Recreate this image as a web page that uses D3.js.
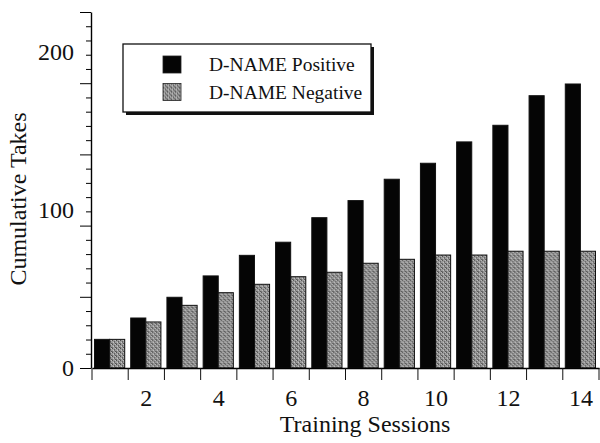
<!DOCTYPE html>
<html>
<head>
<meta charset="utf-8">
<script src="https://cdn.jsdelivr.net/npm/d3@7"></script>
</head>
<body style="margin:0; background:#fff">
<div id="app"></div>
<script>

// sessions along the x axis
var sessions = [1, 2, 3, 4, 5, 6, 7, 8, 9, 10, 11, 12, 13, 14]
var xTickLabels = [2, 4, 6, 8, 10, 12, 14]

// cumulative takes per session
var positive = [18.1, 31.6, 44.7, 58.2, 71.2, 79.5, 95.0, 105.8, 119.3, 129.4, 142.9, 153.4, 172.1, 179.5]
var negative = [18.1, 29.1, 39.6, 47.6, 52.9, 57.7, 60.5, 66.2, 68.7, 71.4, 71.4, 73.8, 73.8, 73.8]

var yTickLabels = [0, 100, 200]
var seriesNames = ['D-NAME Positive', 'D-NAME Negative']

var width = 600
var height = 443
var yMax = 225
var fontFam = '"Liberation Serif", "DejaVu Serif"'

var svg = d3.select('#app').html('')
	.append('svg')
	  .attr('width', width)
	  .attr('height', height)
	  .style('display', 'block')

// halftone-ish grey fill
var defs = svg.append('defs')
var pat = defs.append('pattern')
	.attr('id', 'grey')
	.attr('width', 4)
	.attr('height', 4)
	.attr('patternUnits', 'userSpaceOnUse')
pat.append('rect').attr('width', 4).attr('height', 4).attr('fill', '#9a9a9a')
var dots = [[0, 0, '#4f4f4f'], [2, 1, '#606060'], [1, 2, '#c6c6c6'], [3, 3, '#555'], [3, 0, '#bdbdbd'], [0, 3, '#6e6e6e'], [2, 2, '#707070']]
dots.forEach(function(p) {
	pat.append('rect').attr('x', p[0]).attr('y', p[1]).attr('width', 1).attr('height', 1).attr('fill', p[2])
})

var x = d3.scaleBand()
	.domain(sessions)
	.range([92, 599])
	.padding(0)

var sub = d3.scaleBand()
	.domain(['pos', 'neg'])
	.range([2.5, x.bandwidth() - 3.5])

var y = d3.scaleLinear()
	.domain([0, yMax])
	.range([368, 12])

var fills = { pos: '#050505', neg: 'url(#grey)' }

// bars
var groups = svg.append('g').selectAll('.session')
	.data(sessions)
  .enter()
	.append('g')
	.attr('class', 'session')
	.attr('transform', function(d) { return 'translate(' + x(d) + ',0)' })

groups.selectAll('rect')
	.data(function(d, i) {
		return [{ key: 'pos', v: positive[i] }, { key: 'neg', v: negative[i] }]
	})
  .enter()
	.append('rect')
	.attr('x', function(d) { return sub(d.key) })
	.attr('width', sub.bandwidth())
	.attr('y', function(d) { return y(d.v) })
	.attr('height', function(d) { return y(0) - y(d.v) })
	.attr('fill', function(d) { return fills[d.key] })
	.attr('stroke', '#111')
	.attr('stroke-width', 1)

// y axis: minor/major ticks
var tickVals = d3.range(0, 26).map(function(i) { return i * yMax / 25 })

var yTicks = svg.append('g')
	.attr('transform', 'translate(91,0)')
	.call(d3.axisLeft(y).tickValues(tickVals).tickSizeOuter(0).tickFormat(''))
yTicks.selectAll('.tick line')
	.attr('x2', function(d, i) { return i % 5 === 0 ? -11 : -5 })
	.attr('stroke-width', 1)
yTicks.select('.domain').attr('stroke-width', 1.4)

// y axis labels
var yLab = svg.append('g')
	.attr('transform', 'translate(91,0)')
	.call(d3.axisLeft(y).tickValues(yTickLabels).tickSize(0).tickPadding(17))
yLab.attr('font-family', null)
yLab.select('.domain').remove()
yLab.selectAll('text')
	.style('font-family', fontFam)
	.style('font-size', '24px')
	.attr('fill', '#111')

// x axis line and session separators
var xAxis = svg.append('g')
	.attr('transform', 'translate(0,368)')
	.call(d3.axisBottom(x).tickValues([]).tickSizeOuter(0))
xAxis.select('.domain').attr('stroke-width', 1.4)

xAxis.selectAll('.sep')
	.data(sessions.concat([15]))
  .enter()
	.append('line')
	.attr('class', 'sep')
	.attr('x1', function(d) { return d === 15 ? x.range()[1] : x(d) })
	.attr('x2', function(d) { return d === 15 ? x.range()[1] : x(d) })
	.attr('y1', 0)
	.attr('y2', 12)
	.attr('stroke', '#111')
	.attr('stroke-width', 1)

// x labels
var xLab = svg.append('g')
	.attr('transform', 'translate(0,368)')
	.call(d3.axisBottom(x).tickValues(xTickLabels).tickSize(0).tickPadding(21))
xLab.attr('font-family', null)
xLab.select('.domain').remove()
xLab.selectAll('text')
	.style('font-family', fontFam)
	.style('font-size', '24px')
	.attr('fill', '#111')

// axis titles
svg.append('text')
	.attr('x', 365)
	.attr('y', 432)
	.attr('text-anchor', 'middle')
	.style('font-family', fontFam)
	.style('font-size', '24px')
	.attr('fill', '#111')
	.text('Training Sessions')

svg.append('text')
	.attr('transform', 'translate(26,199) rotate(-90)')
	.attr('text-anchor', 'middle')
	.style('font-family', fontFam)
	.style('font-size', '24px')
	.attr('fill', '#111')
	.text('Cumulative Takes')

// legend
var legend = svg.append('g').attr('transform', 'translate(123,44)')
legend.append('rect')
	.attr('x', 3).attr('y', 3)
	.attr('width', 248).attr('height', 68)
	.attr('fill', '#111')
legend.append('rect')
	.attr('width', 248).attr('height', 68)
	.attr('fill', '#fff')
	.attr('stroke', '#111')
	.attr('stroke-width', 1.3)

var item = legend.selectAll('.item')
	.data(seriesNames)
  .enter()
	.append('g')
	.attr('class', 'item')
	.attr('transform', function(d, i) { return 'translate(0,' + (i * 27.5) + ')' })

item.append('rect')
	.attr('x', 40).attr('y', 12)
	.attr('width', 18).attr('height', 17)
	.attr('fill', function(d, i) { return i === 0 ? '#050505' : 'url(#grey)' })
	.attr('stroke', '#222')
	.attr('stroke-width', 0.8)

item.append('text')
	.attr('x', 86)
	.attr('y', 27)
	.style('font-family', fontFam)
	.style('font-size', '19.5px')
	.attr('fill', '#111')
	.text(function(d) { return d })

</script>
</body>
</html>
